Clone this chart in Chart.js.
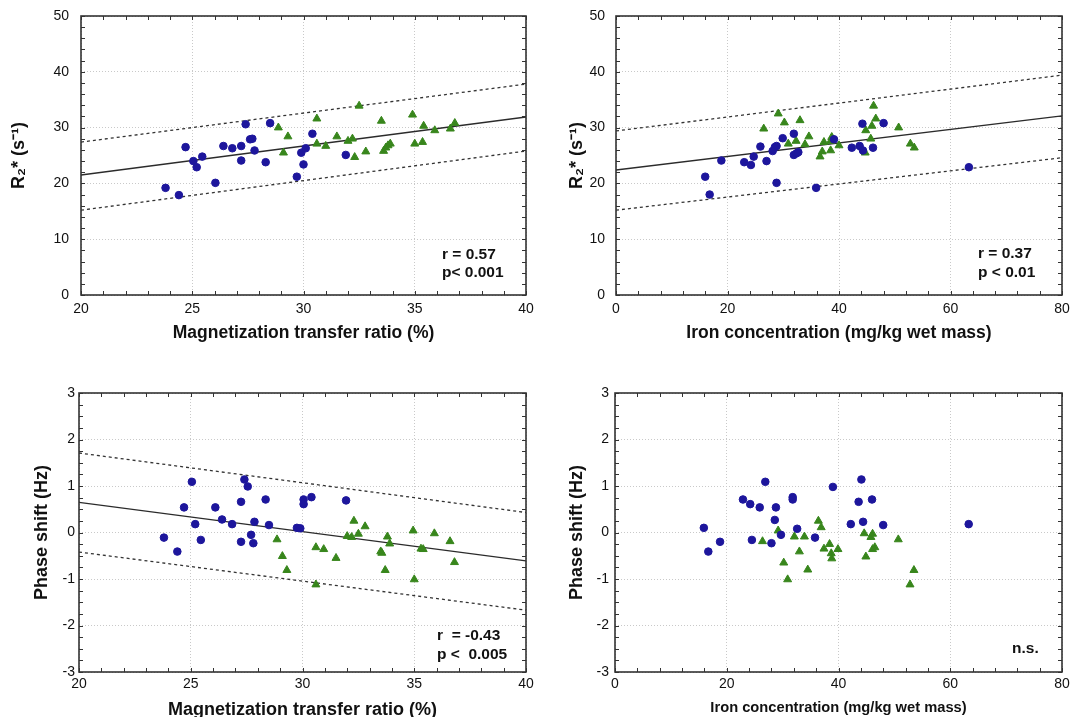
<!DOCTYPE html>
<html lang="en">
<head>
<meta charset="UTF-8">
<title>R2* and phase shift vs MTR and iron</title>
<script src="https://cdn.jsdelivr.net/npm/chart.js"></script>
<style>
  html, body { margin: 0; padding: 0; background: #fff; overflow: hidden; }
  body { width: 1070px; height: 717px; position: relative; }
  .panel { position: absolute; }
</style>
</head>
<body>
<div class="panel" style="left:0;top:0"><canvas id="cA" width="535" height="355"></canvas></div>
<div class="panel" style="left:535px;top:0"><canvas id="cB" width="535" height="355"></canvas></div>
<div class="panel" style="left:0;top:358px"><canvas id="cC" width="535" height="370"></canvas></div>
<div class="panel" style="left:535px;top:358px"><canvas id="cD" width="535" height="370"></canvas></div>

<script>
// ---- panel A: R2* vs magnetization transfer ratio
const mtrBlueA = [23.8, 24.4, 24.7, 25.05, 25.2, 25.45, 26.04, 26.4, 26.8, 27.2, 27.2, 27.4, 27.6, 27.7, 27.8, 28.3, 28.5, 29.7, 29.9, 30.0, 30.1, 30.4, 31.9];
const r2BlueA  = [19.2, 17.9, 26.5, 24.0, 22.9, 24.8, 20.1, 26.7, 26.3, 26.7, 24.1, 30.6, 27.9, 28.0, 25.9, 23.8, 30.8, 21.2, 25.5, 23.4, 26.3, 28.9, 25.1];
const mtrGreenA = [28.87, 29.1, 29.3, 30.6, 30.6, 31.0, 31.5, 32.0, 32.2, 32.3, 32.5, 32.8, 33.5, 33.6, 33.7, 33.8, 33.9, 34.9, 35.0, 35.4, 35.35, 35.9, 36.6, 36.8];
const r2GreenA  = [30.0, 25.5, 28.4, 31.6, 27.1, 26.7, 28.4, 27.6, 28.0, 24.7, 33.9, 25.7, 31.2, 25.8, 26.4, 26.8, 27.1, 32.3, 27.1, 30.3, 27.4, 29.5, 29.8, 30.8];
const fitXA = [20, 40];
const fitA = [21.5, 31.9];
const upperA = [27.4, 37.8];
const lowerA = [15.2, 25.8];

// ---- panel B: R2* vs iron concentration
const ironBlueB = [16.0, 16.8, 18.9, 23.0, 24.2, 24.7, 25.9, 27.0, 28.1, 28.5, 28.8, 28.8, 29.9, 31.9, 31.9, 32.4, 32.7, 35.9, 39.1, 42.3, 43.7, 44.2, 44.3, 46.1, 48.0, 63.3];
const r2BlueB   = [21.2, 18.0, 24.1, 23.8, 23.3, 24.8, 26.6, 24.0, 25.8, 26.5, 20.1, 26.7, 28.1, 28.9, 25.1, 25.4, 25.6, 19.2, 27.9, 26.4, 26.7, 30.7, 25.9, 26.4, 30.8, 22.9];
const ironGreenB = [26.5, 29.1, 30.2, 30.9, 32.3, 33.0, 33.9, 34.6, 36.6, 37.0, 37.3, 38.5, 38.5, 38.7, 40.0, 44.7, 44.8, 45.7, 45.9, 46.2, 46.6, 50.7, 52.8, 53.5];
const r2GreenB   = [29.8, 32.5, 30.9, 27.1, 27.6, 31.3, 27.0, 28.4, 24.8, 25.7, 27.4, 25.9, 27.6, 28.3, 26.8, 25.5, 29.5, 28.0, 30.3, 33.9, 31.6, 30.0, 27.1, 26.4];
const fitXB = [0, 80];
const fitB = [22.4, 32.1];
const upperB = [29.4, 39.4];
const lowerB = [15.2, 24.6];

// ---- panel C: phase shift vs magnetization transfer ratio
const mtrBlueC = [23.8, 24.4, 24.7, 25.05, 25.2, 25.45, 26.1, 26.4, 26.85, 27.25, 27.25, 27.4, 27.55, 27.7, 27.8, 27.85, 28.35, 28.5, 29.75, 29.9, 30.05, 30.05, 30.4, 31.95];
const phaseBlueC = [-0.11, -0.41, 0.54, 1.09, 0.18, -0.16, 0.54, 0.28, 0.18, 0.66, -0.2, 1.14, 0.99, -0.05, -0.23, 0.23, 0.71, 0.16, 0.10, 0.09, 0.71, 0.61, 0.76, 0.69];
const mtrGreenC = [28.86, 29.1, 29.3, 30.6, 30.6, 30.95, 31.5, 32.0, 32.2, 32.3, 32.5, 32.8, 33.5, 33.55, 33.7, 33.8, 33.9, 34.95, 35.0, 35.3, 35.4, 35.9, 36.6, 36.8];
const phaseGreenC = [-0.15, -0.51, -0.81, -0.32, -1.12, -0.36, -0.55, -0.08, -0.10, 0.25, -0.03, 0.13, -0.41, -0.44, -0.81, -0.09, -0.24, 0.04, -1.01, -0.35, -0.36, -0.02, -0.19, -0.64];
const fitXC = [20, 40];
const fitC = [0.65, -0.61];
const upperC = [1.71, 0.43];
const lowerC = [-0.42, -1.67];

// ---- panel D: phase shift vs iron concentration
const ironBlueD = [15.9, 16.7, 18.8, 22.9, 24.2, 24.5, 25.9, 26.9, 28.0, 28.6, 28.8, 29.7, 31.8, 31.8, 32.6, 35.8, 39.0, 42.2, 43.6, 44.1, 44.4, 46.0, 48.0, 63.3];
const phaseBlueD = [0.10, -0.41, -0.2, 0.71, 0.61, -0.16, 0.54, 1.09, -0.23, 0.27, 0.54, -0.05, 0.76, 0.71, 0.08, -0.11, 0.98, 0.18, 0.66, 1.14, 0.23, 0.71, 0.16, 0.18];
const ironGreenD = [26.4, 29.2, 30.2, 30.9, 32.1, 33.0, 33.9, 34.5, 36.4, 36.9, 37.4, 38.4, 38.7, 38.8, 39.9, 44.6, 44.9, 45.8, 46.1, 46.1, 46.5, 50.7, 52.8, 53.5];
const phaseGreenD = [-0.19, 0.04, -0.65, -1.01, -0.09, -0.41, -0.09, -0.80, 0.25, 0.11, -0.35, -0.25, -0.45, -0.56, -0.36, -0.02, -0.52, -0.10, -0.03, -0.36, -0.32, -0.15, -1.12, -0.81];

const BLUE = '#1d169c';
const GREEN = '#38861c';
const FONT = "'Liberation Sans', Arial, sans-serif";
Chart.defaults.font.family = FONT;
Chart.defaults.color = '#111';

function pts(xs, ys) {
  return xs.map((x, i) => ({ x: x, y: ys[i] }));
}

// dark frame round the plot area plus small inward ticks on all sides
const framePlugin = {
  id: 'frame',
  afterDraw(chart, args, opts) {
    const { ctx, chartArea: a, scales } = chart;
    const xs = scales.x, ys = scales.y;
    ctx.save();
    ctx.strokeStyle = '#333';
    ctx.lineWidth = 1;
    ctx.beginPath();
    for (let v = xs.min; v <= xs.max + 1e-9; v += opts.xMinor) {
      const px = Math.round(xs.getPixelForValue(v)) + 0.5;
      ctx.moveTo(px, a.bottom); ctx.lineTo(px, a.bottom - 4);
      ctx.moveTo(px, a.top); ctx.lineTo(px, a.top + 4);
    }
    for (let v = ys.min; v <= ys.max + 1e-9; v += opts.yMinor) {
      const py = Math.round(ys.getPixelForValue(v)) + 0.5;
      ctx.moveTo(a.left, py); ctx.lineTo(a.left + 4, py);
      ctx.moveTo(a.right, py); ctx.lineTo(a.right - 4, py);
    }
    ctx.stroke();
    ctx.lineWidth = 1.6;
    ctx.strokeRect(a.left, a.top, a.right - a.left, a.bottom - a.top);
    ctx.restore();
  }
};

// r / p annotation in the lower right corner
const statsPlugin = {
  id: 'stats',
  afterDraw(chart, args, opts) {
    const { ctx, chartArea: a } = chart;
    ctx.save();
    ctx.font = 'bold 15.5px ' + FONT;
    ctx.fillStyle = '#111';
    ctx.textBaseline = 'middle';
    ctx.textAlign = 'left';
    opts.lines.forEach((t, i) => ctx.fillText(t, a.right - opts.right, a.bottom - opts.up[i]));
    ctx.restore();
  }
};

function makePanel(id, p) {
  const datasets = [
    { data: pts(p.blueX, p.blueY), pointStyle: 'circle', pointRadius: 3.8,
      backgroundColor: BLUE, borderColor: BLUE, borderWidth: 1, order: 0 },
    { data: pts(p.greenX, p.greenY), pointStyle: 'triangle', pointRadius: 4.6,
      backgroundColor: GREEN, borderColor: GREEN, borderWidth: 1, order: 0 }
  ];
  if (p.fit) {
    datasets.push({ data: pts(p.fitX, p.fit), showLine: true, pointRadius: 0,
      borderColor: '#2b2b2b', borderWidth: 1.3, order: 1 });
    datasets.push({ data: pts(p.fitX, p.upper), showLine: true, pointRadius: 0,
      borderColor: '#333', borderWidth: 1.3, borderDash: [3, 3], order: 1 });
    datasets.push({ data: pts(p.fitX, p.lower), showLine: true, pointRadius: 0,
      borderColor: '#333', borderWidth: 1.3, borderDash: [3, 3], order: 1 });
  }

  new Chart(document.getElementById(id), {
    type: 'scatter',
    data: { datasets },
    options: {
      responsive: false,
      animation: false,
      events: [],
      layout: { autoPadding: false, padding: { top: p.padTop, right: p.padRight, left: 0, bottom: 0 } },
      plugins: {
        legend: { display: false },
        tooltip: { enabled: false },
        frame: { xMinor: p.xMinor, yMinor: p.yMinor },
        stats: p.stats
      },
      scales: {
        x: {
          type: 'linear', min: p.xMin, max: p.xMax,
          ticks: { stepSize: p.xStep, padding: p.xTickPad, maxRotation: 0, font: { size: 14 }, color: '#111' },
          grid: { color: '#c9c9c9', drawTicks: false },
          border: { display: false, dash: [1, 2] },
          title: { display: true, text: p.xTitle, color: '#111',
                   font: { size: p.xTitleSize, weight: 'bold' }, padding: { top: 0, bottom: p.xTitlePad } },
          // fixed box; let layout padding alone place the plot area
          afterFit: s => { s.height = p.xHeight; s.paddingLeft = 0; s.paddingRight = 0; }
        },
        y: {
          type: 'linear', min: p.yMin, max: p.yMax,
          ticks: { stepSize: p.yStep, padding: p.yTickPad, font: { size: 14 }, color: '#111' },
          grid: { color: '#c9c9c9', drawTicks: false },
          border: { display: false, dash: [1, 2] },
          title: { display: true, text: p.yTitle, color: '#111',
                   font: { size: 18, weight: 'bold' }, padding: { top: p.yTitlePad, bottom: 0 } },
          afterFit: s => { s.width = p.yWidth; s.paddingTop = 0; s.paddingBottom = 0; }
        }
      }
    },
    plugins: [framePlugin, statsPlugin]
  });
}

makePanel('cA', {
  blueX: mtrBlueA, blueY: r2BlueA, greenX: mtrGreenA, greenY: r2GreenA,
  fitX: fitXA, fit: fitA, upper: upperA, lower: lowerA,
  xMin: 20, xMax: 40, xStep: 5, xMinor: 1, yMin: 0, yMax: 50, yStep: 10, yMinor: 2,
  xTitle: 'Magnetization transfer ratio (%)', xTitleSize: 17.5, xTitlePad: 11, xTickPad: 6, xHeight: 60,
  yTitle: 'R\u2082* (s\u207B\u00B9)', yTitlePad: 8, yTickPad: 12, yWidth: 81,
  padTop: 16, padRight: 9,
  stats: { lines: ['r = 0.57', 'p< 0.001'], right: 84, up: [40, 22] }
});

makePanel('cB', {
  blueX: ironBlueB, blueY: r2BlueB, greenX: ironGreenB, greenY: r2GreenB,
  fitX: fitXB, fit: fitB, upper: upperB, lower: lowerB,
  xMin: 0, xMax: 80, xStep: 20, xMinor: 4, yMin: 0, yMax: 50, yStep: 10, yMinor: 2,
  xTitle: 'Iron concentration (mg/kg wet mass)', xTitleSize: 17.5, xTitlePad: 11, xTickPad: 6, xHeight: 60,
  yTitle: 'R\u2082* (s\u207B\u00B9)', yTitlePad: 31, yTickPad: 11, yWidth: 81,
  padTop: 16, padRight: 8,
  stats: { lines: ['r = 0.37', 'p < 0.01'], right: 84, up: [41, 22] }
});

makePanel('cC', {
  blueX: mtrBlueC, blueY: phaseBlueC, greenX: mtrGreenC, greenY: phaseGreenC,
  fitX: fitXC, fit: fitC, upper: upperC, lower: lowerC,
  xMin: 20, xMax: 40, xStep: 5, xMinor: 1, yMin: -3, yMax: 3, yStep: 1, yMinor: 0.25,
  xTitle: 'Magnetization transfer ratio (%)', xTitleSize: 18, xTitlePad: 7, xTickPad: 4, xHeight: 56,
  yTitle: 'Phase shift (Hz)', yTitlePad: 31, yTickPad: 4, yWidth: 79,
  padTop: 35, padRight: 9,
  stats: { lines: ['r  = -0.43', 'p <  0.005'], right: 89, up: [36, 17] }
});

makePanel('cD', {
  blueX: ironBlueD, blueY: phaseBlueD, greenX: ironGreenD, greenY: phaseGreenD,
  xMin: 0, xMax: 80, xStep: 20, xMinor: 4, yMin: -3, yMax: 3, yStep: 1, yMinor: 0.25,
  xTitle: 'Iron concentration (mg/kg wet mass)', xTitleSize: 14.7, xTitlePad: 11, xTickPad: 4, xHeight: 56,
  yTitle: 'Phase shift (Hz)', yTitlePad: 31, yTickPad: 6, yWidth: 80,
  padTop: 35, padRight: 8,
  stats: { lines: ['n.s.'], right: 50, up: [23] }
});
</script>
</body>
</html>
